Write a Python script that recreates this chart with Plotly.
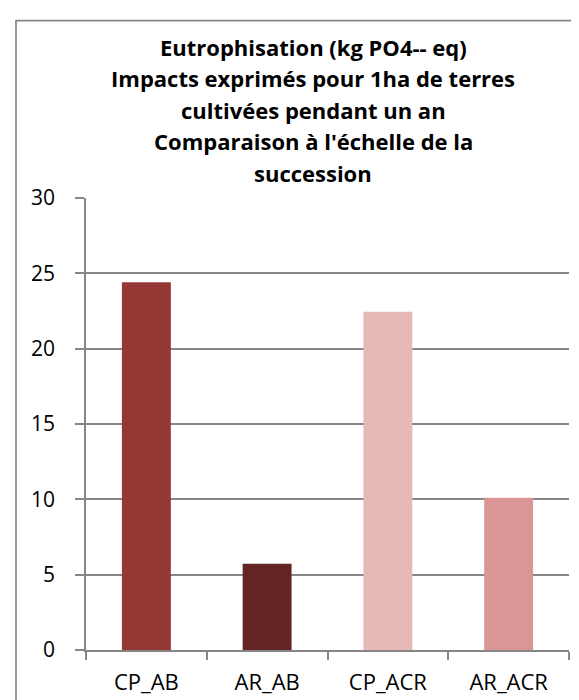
import plotly.graph_objects as go

categories = ["CP_AB", "AR_AB", "CP_ACR", "AR_ACR"]
values = [24.4, 5.73, 22.45, 10.1]
bar_colors = ["#953735", "#632523", "#E6B9B8", "#D99694"]
title_lines = [
    "Eutrophisation (kg PO4-- eq)",
    "Impacts exprimés pour 1ha de terres",
    "cultivées pendant un an",
    "Comparaison à l'échelle de la",
    "succession",
]
y_ticks = [0, 5, 10, 15, 20, 25, 30]

W, H = 579, 700
L, R, T, B = 78, 561, 190, 651  # plot area in pixels
GRID = "#868686"


def px_x(px):
    return (px - L) / (R - L)


def px_y(py):
    return (B - py) / (B - T)


fig = go.Figure(
    go.Bar(
        x=categories,
        y=values,
        marker=dict(color=bar_colors, line=dict(width=0)),
        width=0.405,
    )
)

title_y = [36, 68, 100, 132, 164]
for txt, yy in zip(title_lines, title_y):
    fig.add_annotation(
        text="<b>" + txt + "</b>",
        x=px_x(305), y=px_y(yy), xref="paper", yref="paper",
        xanchor="center", yanchor="middle", showarrow=False,
        font=dict(family="Open Sans", size=22, color="#000000"),
    )

fig.add_shape(
    type="rect", xref="paper", yref="paper",
    x0=px_x(8), x1=px_x(584), y0=px_y(705), y1=px_y(9),
    line=dict(color=GRID, width=1.7), fillcolor="rgba(0,0,0,0)", layer="below",
)

fig.update_layout(
    width=W, height=H,
    margin=dict(l=L, r=W - R, t=T, b=H - B, pad=0),
    paper_bgcolor="white", plot_bgcolor="white",
    showlegend=False,
    font=dict(family="Open Sans", size=21, color="#000000"),
    xaxis=dict(
        type="category", showline=True, linecolor=GRID, linewidth=1.5,
        ticks="outside", tickson="boundaries", ticklen=8, tickcolor=GRID, tickwidth=1.5,
        showgrid=False, tickfont=dict(size=22), range=[-0.5, 3.5],
        ticklabelstandoff=12,
    ),
    yaxis=dict(
        range=[0, 30], tickvals=y_ticks, showline=True, linecolor=GRID, linewidth=1.5,
        ticks="outside", ticklen=9, tickcolor=GRID, tickwidth=1.5,
        showgrid=True, gridcolor=GRID, gridwidth=1.5, zeroline=False,
        tickfont=dict(size=21), ticklabelstandoff=16,
    ),
)

fig.write_html("out.html")
